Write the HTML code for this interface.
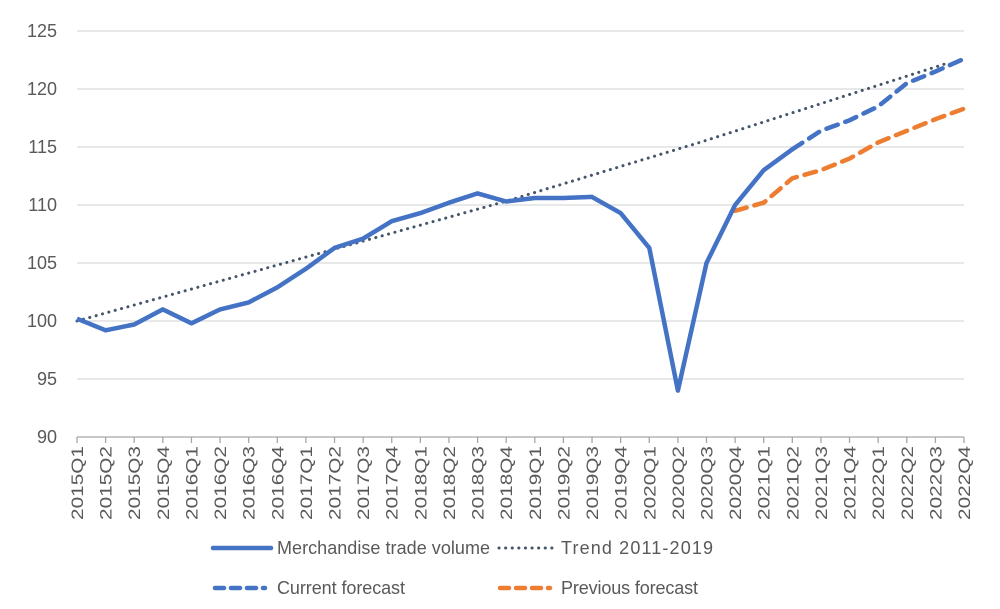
<!DOCTYPE html>
<html><head><meta charset="utf-8"><style>
html,body{margin:0;padding:0;background:#fff;}
svg{display:block;font-family:"Liberation Sans",sans-serif;}
</style></head><body>
<svg id="c" width="1000" height="609" xmlns="http://www.w3.org/2000/svg"></svg>
<script>
const s=document.getElementById('c');
const X0=77,DX=(964-77)/31,Y0=437,K=11.6;
const px=i=>X0+i*DX, py=v=>Y0-(v-90)*K;
let h='';
for(let v=90;v<=125;v+=5){
 const y=py(v);
 if(v>90)h+=`<line x1="77" x2="964" y1="${y}" y2="${y}" stroke="#d9d9d9" stroke-width="1.3"/>`;
 h+=`<text x="57" y="${y+6}" font-size="18" fill="#595959" text-anchor="end">${v}</text>`;
}
h+=`<line x1="77" x2="964" y1="437" y2="437" stroke="#a6a6a6" stroke-width="1.3"/>`;
for(let i=0;i<32;i++){
 const x=px(i);
 h+=`<line x1="${x}" x2="${x}" y1="437" y2="443" stroke="#a6a6a6" stroke-width="1.3"/>`;
 const yr=2015+Math.floor(i/4),q=i%4+1;
 h+=`<text transform="translate(${x+6},446) rotate(-90)" font-size="17" fill="#595959" text-anchor="end" textLength="74" lengthAdjust="spacingAndGlyphs">${yr}Q${q}</text>`;
}
const pts=(arr,off)=>arr.map((v,i)=>px(i+off).toFixed(1)+','+py(v).toFixed(1)).join(' ');
// trend
h+=`<polyline points="77,${py(100)} 505,${py(110.3)} 700,${py(115.4)} 950,${py(122.3)}" fill="none" stroke="#44546a" stroke-width="3" stroke-dasharray="0.1 6.5" stroke-linecap="round"/>`;
const main=[100.2,99.2,99.7,101.0,99.8,101.0,101.6,102.9,104.5,106.3,107.1,108.6,109.3,110.2,111.0,110.3,110.6,110.6,110.7,109.3,106.3,94.0,105.0,110.0,113.0,114.8];
const prev=[109.5,110.2,112.3,113.0,114.0,115.4,116.4,117.4,118.3];
const cur=[114.8,116.4,117.3,118.5,120.5,121.5,122.6];
h+=`<polyline points="${pts(prev,23)}" fill="none" stroke="#ed7d31" stroke-width="4.5" stroke-dasharray="12 8" stroke-linecap="round"/>`;
h+=`<polyline points="${pts(cur,25)}" fill="none" stroke="#4472c4" stroke-width="4.5" stroke-dasharray="12 8" stroke-linecap="round"/>`;
h+=`<polyline points="${pts(main,0)}" fill="none" stroke="#4472c4" stroke-width="4.5" stroke-linejoin="round"/>`;
// legend
h+=`<line x1="213" x2="271" y1="548" y2="548" stroke="#4472c4" stroke-width="4.5" stroke-linecap="round"/>`;
h+=`<text x="277" y="554" font-size="18" fill="#595959" textLength="213">Merchandise trade volume</text>`;
h+=`<line x1="499" x2="553" y1="548" y2="548" stroke="#44546a" stroke-width="3" stroke-dasharray="0.1 6.5" stroke-linecap="round"/>`;
h+=`<text x="561" y="554" font-size="18" fill="#595959" textLength="152">Trend 2011-2019</text>`;
h+=`<line x1="215" x2="265" y1="588" y2="588" stroke="#4472c4" stroke-width="4.5" stroke-dasharray="9 7" stroke-linecap="round"/>`;
h+=`<text x="277" y="594" font-size="18" fill="#595959" textLength="128">Current forecast</text>`;
h+=`<line x1="500" x2="550" y1="588" y2="588" stroke="#ed7d31" stroke-width="4.5" stroke-dasharray="9 7" stroke-linecap="round"/>`;
h+=`<text x="561" y="594" font-size="18" fill="#595959" textLength="137">Previous forecast</text>`;
s.innerHTML=h;
</script>
</body></html>
